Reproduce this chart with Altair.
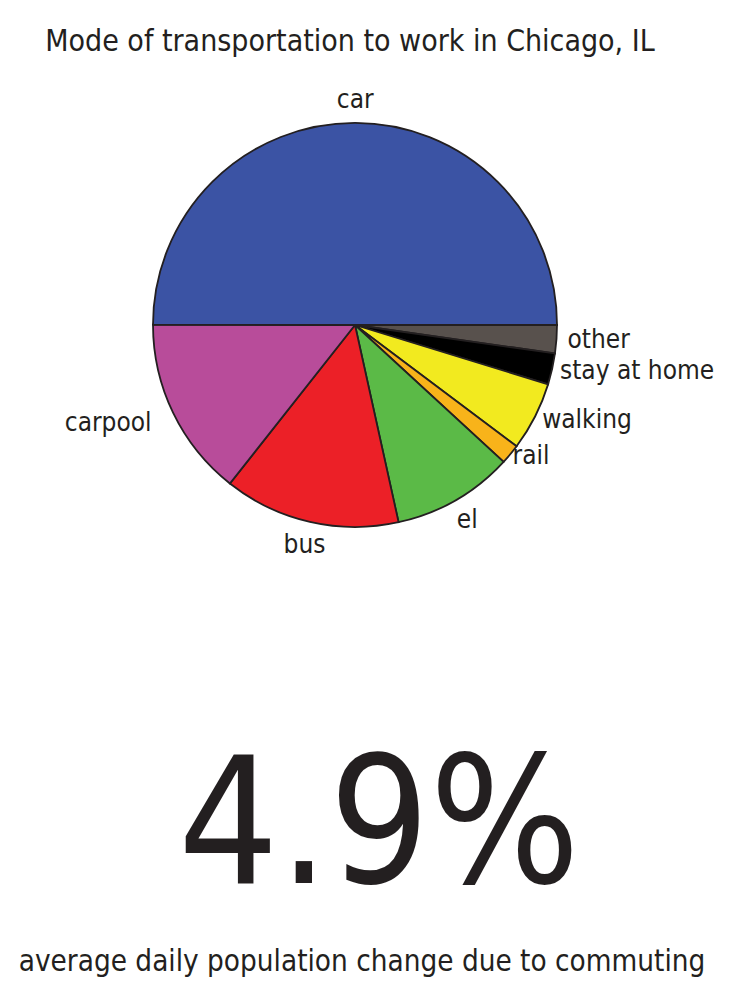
import altair as alt
import pandas as pd

# ---- data ----
modes = ["other", "stay at home", "walking", "rail", "el", "bus", "carpool", "car"]
shares = [2.25, 2.5, 5.5, 1.6, 9.7, 14.1, 14.4, 50.0]
colors = ["#58514D", "#000000", "#F2EA1F", "#F8B31A", "#5BBA47", "#EC2027", "#B84C9A", "#3B53A4"]
label_radius = [213, 210, 210, 205, 225, 226, 226, 225]
label_align = ["left", "left", "left", "left", "center", "center", "right", "center"]

title_text = ["Mode of transportation to work in Chicago, IL"]
big_text = ["4.9%"]
sub_text = ["average daily population change due to commuting"]

FONT = "DejaVu Sans Condensed, Liberation Sans, sans-serif"
PI = 3.141592653589793

df = pd.DataFrame({
    "mode": modes,
    "share": shares,
    "idx": list(range(len(modes))),
    "lr": label_radius,
    "align": label_align,
})

theta_scale = alt.Scale(range=[PI / 2, PI / 2 + 2 * PI])
color_scale = alt.Scale(domain=modes, range=colors)

pie = alt.Chart(df).mark_arc(radius=202, stroke="#231F20", strokeWidth=1.8).encode(
    theta=alt.Theta("share:Q", stack=True, scale=theta_scale),
    order=alt.Order("idx:Q"),
    color=alt.Color("mode:N", scale=color_scale, legend=None),
)

label_base = alt.Chart(df).transform_joinaggregate(
    total="sum(share)"
).transform_window(
    cum="sum(share)", sort=[alt.SortField("idx")], frame=[None, 0]
).transform_calculate(
    mid=f"{PI/2} + 2*{PI}*(datum.cum - datum.share/2)/datum.total"
)

def label_layer(al):
    return label_base.transform_filter(alt.datum.align == al).mark_text(
        align=al, baseline="middle", font=FONT, fontSize=26, color="#231F20"
    ).encode(
        text="mode:N",
        theta=alt.Theta("mid:Q", scale=None, stack=False),
        radius=alt.Radius("lr:Q", scale=None),
    )

labels = [label_layer(a) for a in ["left", "center", "right"]]

title = alt.Chart(pd.DataFrame({"t": title_text})).mark_text(
    font=FONT, fontSize=30, align="center", baseline="alphabetic", color="#231F20"
).encode(text="t:N", x=alt.value(350), y=alt.value(51))

big = alt.Chart(pd.DataFrame({"t": big_text})).mark_text(
    font=FONT, fontSize=176, align="center", baseline="alphabetic", color="#231F20"
).encode(text="t:N", x=alt.value(379), y=alt.value(883))

sub = alt.Chart(pd.DataFrame({"t": sub_text})).mark_text(
    font=FONT, fontSize=29.4, align="center", baseline="alphabetic", color="#231F20"
).encode(text="t:N", x=alt.value(362), y=alt.value(971))

chart = alt.layer(pie, *labels, title, big, sub).properties(
    width=710, height=650,
    padding={"left": 0, "top": 0, "right": 21, "bottom": 358},
    autosize=alt.AutoSizeParams(type="none"),
    background="white",
).configure_view(stroke=None)

chart.save("out.html", embed_options={"renderer": "svg", "actions": False})
